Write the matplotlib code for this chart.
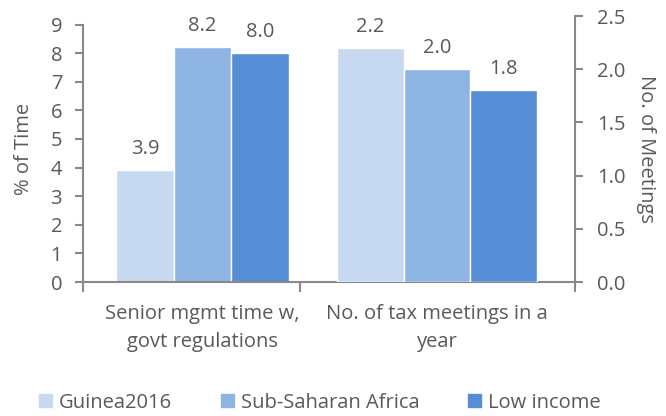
import matplotlib
matplotlib.use("Agg")
import matplotlib.pyplot as plt
import numpy as np

categories = ["Senior mgmt time w,\ngovt regulations", "No. of tax meetings in a\nyear"]
series = ["Guinea2016", "Sub-Saharan Africa", "Low income"]
time_vals = [3.9, 8.2, 8.0]        # % of time (left axis)
meeting_vals = [2.2, 2.0, 1.8]     # no. of meetings (right axis)
left_ticks = list(range(0, 10))
right_ticks = [0.0, 0.5, 1.0, 1.5, 2.0, 2.5]

colors = ["#C6D9F0", "#8EB4E3", "#558ED5"]
text_c = "#595959"
axis_c = "#898989"

plt.rcParams['font.family'] = ['Open Sans', 'DejaVu Sans']
fs = 14.5

fig = plt.figure(figsize=(6.66, 4.16), dpi=100)
ax = fig.add_axes([83/666, 1-282/416, (575-83)/666, 266/416])
ax2 = ax.twinx()

x = np.arange(len(categories))
w1 = 0.246
w2 = 0.284
for i, s in enumerate(series):
    ax.bar(x[0] + (i-1)*w1, time_vals[i], width=w1, color=colors[i],
           edgecolor="white", linewidth=1.0, label=s)
    ax.annotate(f"{time_vals[i]:.1f}", (x[0] + (i-1)*w1, time_vals[i]),
                xytext=(0, 8), textcoords="offset points", ha="center",
                va="bottom", color=text_c, fontsize=fs)
    ax2.bar(x[1] + (i-1)*w2, meeting_vals[i], width=w2, color=colors[i],
            edgecolor="white", linewidth=1.0)
    ax2.annotate(f"{meeting_vals[i]:.1f}", (x[1] + (i-1)*w2, meeting_vals[i]),
                 xytext=(0, 8), textcoords="offset points", ha="center",
                 va="bottom", color=text_c, fontsize=fs)

xl = (-0.51, 1.588)
ax.set_xlim(*xl)
ax.set_ylim(0, 9.3)
ax2.set_ylim(0, 2.5)
ax.set_yticks(left_ticks)
ax2.set_yticks(right_ticks)
ax2.set_yticklabels([f"{v:.1f}" for v in right_ticks])

for a in (ax, ax2):
    a.spines["top"].set_visible(False)
    a.spines["bottom"].set_color(axis_c)
    a.spines["bottom"].set_linewidth(1.5)
ax.spines["right"].set_visible(False)
ax2.spines["left"].set_visible(False)
ax.spines["left"].set_color(axis_c)
ax.spines["left"].set_linewidth(1.5)
ax.spines["left"].set_bounds(0, 9)
ax2.spines["right"].set_color(axis_c)
ax2.spines["right"].set_linewidth(1.5)

ax.tick_params(axis="y", colors=axis_c, labelcolor=text_c, labelsize=fs,
               length=6, width=1.5, pad=9)
ax2.tick_params(axis="y", colors=axis_c, labelcolor=text_c, labelsize=fs,
                length=6, width=1.5, pad=10)

# category axis: ticks at boundaries, labels at centers
ax.set_xticks([xl[0], 0.416, xl[1]])
ax.set_xticklabels([])
ax.tick_params(axis="x", colors=axis_c, length=7, width=1.5)
ax.set_xticks(x, minor=True)
ax.set_xticklabels(categories, minor=True)
ax.tick_params(axis="x", which="minor", length=0, labelcolor=text_c,
               labelsize=fs, pad=16)
for t in ax.get_xticklabels(minor=True):
    t.set_linespacing(1.5)
ax2.spines["bottom"].set_visible(False)

ax.set_ylabel("% of Time", color=text_c, fontsize=fs, labelpad=12)
ax2.set_ylabel("No. of Meetings", color=text_c, fontsize=fs, rotation=270,
               labelpad=22)

handles = [plt.Rectangle((0, 0), 1, 1, color=c) for c in colors]
fig.legend(handles, series, loc="lower center", ncol=3, frameon=False,
           bbox_to_anchor=(0.48, -0.036), fontsize=fs, labelcolor=text_c,
           handlelength=0.65, handleheight=0.65, handletextpad=0.35,
           columnspacing=2.4)

fig.savefig("out.png", dpi=100)
